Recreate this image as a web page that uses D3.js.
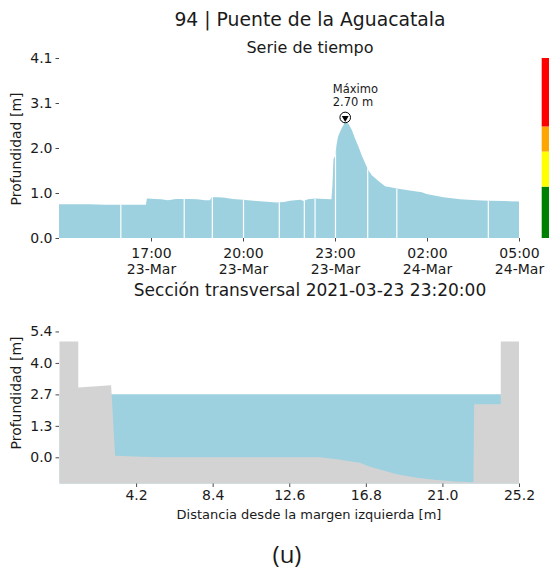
<!DOCTYPE html>
<html><head><meta charset="utf-8">
<script src="https://cdn.jsdelivr.net/npm/d3@7"></script>
<style>html,body{margin:0;padding:0;background:#fff}svg{display:block}</style>
</head><body>
<svg id="chart" width="549" height="571"></svg>
<script>
// ---------- DATA ----------
const tsTimes = ["2021-03-23 14:00","2021-03-23 14:30","2021-03-23 15:00","2021-03-23 15:30","2021-03-23 16:00","2021-03-23 16:30","2021-03-23 16:50","2021-03-23 16:52","2021-03-23 17:08","2021-03-23 17:20","2021-03-23 17:33","2021-03-23 17:49","2021-03-23 18:03","2021-03-23 18:16","2021-03-23 18:30","2021-03-23 18:46","2021-03-23 18:55","2021-03-23 18:59","2021-03-23 19:10","2021-03-23 19:21","2021-03-23 19:40","2021-03-23 20:00","2021-03-23 20:27","2021-03-23 20:53","2021-03-23 21:06","2021-03-23 21:20","2021-03-23 21:32","2021-03-23 21:52","2021-03-23 21:59","2021-03-23 22:07","2021-03-23 22:21","2021-03-23 22:40","2021-03-23 22:53","2021-03-23 22:55","2021-03-23 22:57","2021-03-23 23:00","2021-03-23 23:03","2021-03-23 23:06","2021-03-23 23:10","2021-03-23 23:13","2021-03-23 23:17","2021-03-23 23:20","2021-03-23 23:23","2021-03-23 23:26","2021-03-23 23:33","2021-03-23 23:39","2021-03-23 23:46","2021-03-23 23:52","2021-03-23 23:59","2021-03-24 00:05","2021-03-24 00:12","2021-03-24 00:25","2021-03-24 00:38","2021-03-24 00:51","2021-03-24 01:01","2021-03-24 01:23","2021-03-24 01:50","2021-03-24 01:59","2021-03-24 02:32","2021-03-24 03:05","2021-03-24 03:37","2021-03-24 04:00","2021-03-24 04:30","2021-03-24 05:00"];
const tsDepth = [0.77,0.77,0.77,0.76,0.76,0.76,0.76,0.90,0.89,0.88,0.86,0.89,0.89,0.89,0.88,0.86,0.86,0.93,0.93,0.92,0.89,0.87,0.84,0.82,0.81,0.82,0.85,0.87,0.84,0.88,0.90,0.89,0.88,1.20,1.80,1.86,2.12,2.31,2.42,2.50,2.58,2.70,2.62,2.61,2.46,2.27,2.08,1.89,1.70,1.55,1.43,1.30,1.18,1.15,1.13,1.09,1.04,1.00,0.93,0.88,0.86,0.85,0.84,0.83];
const tsGaps = ["2021-03-23 16:01","2021-03-23 18:05","2021-03-23 19:00","2021-03-23 20:01","2021-03-23 21:11","2021-03-23 22:00","2021-03-23 22:21","2021-03-23 23:01","2021-03-24 00:04","2021-03-24 01:01","2021-03-24 04:00"];
const tsDomain = ["2021-03-23 14:00","2021-03-24 05:00"];
const tsTickTimes = ["2021-03-23 17:00","2021-03-23 20:00","2021-03-23 23:00","2021-03-24 02:00","2021-03-24 05:00"];
const tsYTicks = [0, 1.025, 2.05, 3.075, 4.1];
const tsYMax = 4.1;
const maxLabel = ["Máximo", "2.70 m"];
const maxTime = "2021-03-23 23:20";
const maxDepth = 2.70;
const alertBounds = [0, 1.17, 1.97, 2.54, 4.1];
const alertColors = ["#008000", "#ffff00", "#ffa500", "#ff0000"];

const secX = [0, 1.03, 1.03, 2.83, 3.05, 4.5, 5.5, 10.0, 14.3, 15.2, 16.48, 17.03, 18.5, 19.6, 20.69, 21.7, 22.7, 22.74, 24.2, 24.2, 25.2];
const secZ = [4.95, 4.95, 2.98, 3.08, 0.07, 0.02, 0.0, 0.0, 0.0, -0.08, -0.23, -0.40, -0.72, -0.87, -0.97, -1.03, -1.07, 2.27, 2.27, 4.95, 4.95];
const waterLevel = 2.70;
const secXTicks = [4.2, 8.4, 12.6, 16.8, 21.0, 25.2];
const secYTicks = [0, 1.345, 2.69, 4.035, 5.38];
const secYDomain = [-1.12, 5.4];

const titleMain = "94 | Puente de la Aguacatala";
const titleTS = "Serie de tiempo";
const titleSec = "Sección transversal 2021-03-23 23:20:00";
const yLabel = "Profundidad [m]";
const xLabelSec = "Distancia desde la margen izquierda [m]";
const panelLabel = "(u)";

// ---------- DRAW ----------
const svg = d3.select("#chart");
const FONT = "DejaVu Sans";
const TXT = "#1a1a1a";
const BLUE = "#9dd1e0";
const GRAY = "#d3d3d3";
const parse = d3.timeParse("%Y-%m-%d %H:%M");

const ts = tsTimes.map((t,i)=>({t: parse(t), v: tsDepth[i]}));
const x = d3.scaleTime().domain(tsDomain.map(parse)).range([59, 519]);
const y = d3.scaleLinear().domain([0, tsYMax]).range([238, 58]);

// titles
svg.append("text").attr("x",310).attr("y",26).attr("text-anchor","middle")
  .attr("font-family",FONT).attr("font-size",18.8).attr("fill",TXT).text(titleMain);
svg.append("text").attr("x",310).attr("y",53).attr("text-anchor","middle")
  .attr("font-family",FONT).attr("font-size",16).attr("fill",TXT).text(titleTS);

// area
const area = d3.area().x(d=>x(d.t)).y0(y(0)).y1(d=>y(d.v));
svg.append("clipPath").attr("id","tsclip").append("path").datum(ts).attr("d",area);
svg.append("path").datum(ts).attr("d",area).attr("fill",BLUE);
svg.append("g").attr("clip-path","url(#tsclip)")
  .selectAll("line").data(tsGaps.map(parse)).join("line")
  .attr("x1",d=>x(d)).attr("x2",d=>x(d)).attr("y1",y(0)).attr("y2",y(tsYMax))
  .attr("stroke","#fff").attr("stroke-width",1.2);

// alert colour bar
const yb = d3.range(alertColors.length);
svg.append("g").selectAll("rect").data(yb).join("rect")
  .attr("x",541.7).attr("width",10)
  .attr("y",i=>y(alertBounds[i+1])).attr("height",i=>y(alertBounds[i])-y(alertBounds[i+1]))
  .attr("fill",i=>alertColors[i]);

// y axis top
const gy = svg.append("g").attr("transform","translate(59,0)")
  .call(d3.axisLeft(y).tickValues(tsYTicks).tickFormat(d3.format(".1f")).tickSize(3.5).tickPadding(3));
gy.select(".domain").remove();
gy.selectAll("line").attr("stroke",TXT).attr("stroke-width",0.8);
gy.selectAll("text").attr("font-family",FONT).attr("font-size",14).attr("fill",TXT);

// x axis top
const gx = svg.append("g").attr("transform","translate(0,238)")
  .call(d3.axisBottom(x).tickValues(tsTickTimes.map(parse)).tickFormat("").tickSize(3.5));
gx.select(".domain").remove();
gx.selectAll("line").attr("stroke",TXT).attr("stroke-width",0.8);
const fH = d3.timeFormat("%H:%M"), fD = d3.timeFormat("%d-%b");
gx.selectAll(".tick").append("text").attr("text-anchor","middle")
  .attr("font-family",FONT).attr("font-size",14).attr("fill",TXT)
  .each(function(d){
    const t = d3.select(this);
    t.append("tspan").attr("x",0).attr("y",20).text(fH(d));
    t.append("tspan").attr("x",0).attr("y",35.8).text(fD(d));
  });

svg.append("text").attr("transform","translate(21,149) rotate(-90)").attr("text-anchor","middle")
  .attr("font-family",FONT).attr("font-size",14).attr("fill",TXT).text(yLabel);

// max marker
const mx = x(parse(maxTime)), my = y(maxDepth) - 2;
svg.append("circle").attr("cx",mx).attr("cy",my).attr("r",5.3)
  .attr("fill","#fff").attr("stroke","#000").attr("stroke-width",1);
svg.append("path").attr("d",d3.symbol(d3.symbolTriangle, 20)()).attr("fill","#000")
  .attr("transform",`translate(${mx},${my+0.5}) rotate(180)`);
svg.append("text").attr("x",mx-12.5).attr("font-family",FONT).attr("font-size",11.5).attr("fill",TXT)
  .selectAll("tspan").data(maxLabel).join("tspan")
  .attr("x",mx-12.5).attr("y",(d,i)=>my-24.5+i*13.2).text(d=>d);

// ---------- CROSS SECTION ----------
const sec = secX.map((v,i)=>({x:v, z:secZ[i]}));
const xs = d3.scaleLinear().domain([0, 25.2]).range([59.5, 519]);
const ys = d3.scaleLinear().domain(secYDomain).range([483.5, 331]);

svg.append("text").attr("x",310).attr("y",295.5).attr("text-anchor","middle")
  .attr("font-family",FONT).attr("font-size",17).attr("fill",TXT).text(titleSec);

const water = d3.area().x(d=>xs(d.x)).y0(ys(secYDomain[0])).y1(ys(waterLevel));
svg.append("path").datum(sec).attr("d",water).attr("fill",BLUE);
const ground = d3.area().x(d=>xs(d.x)).y0(ys(secYDomain[0])).y1(d=>ys(d.z));
svg.append("path").datum(sec).attr("d",ground).attr("fill",GRAY);

const gy2 = svg.append("g").attr("transform","translate(59,0)")
  .call(d3.axisLeft(ys).tickValues(secYTicks).tickFormat(d3.format(".1f")).tickSize(3.5).tickPadding(3));
gy2.select(".domain").remove();
gy2.selectAll("line").attr("stroke",TXT).attr("stroke-width",0.8);
gy2.selectAll("text").attr("font-family",FONT).attr("font-size",14).attr("fill",TXT);

const gx2 = svg.append("g").attr("transform","translate(0,483.5)")
  .call(d3.axisBottom(xs).tickValues(secXTicks).tickFormat(d3.format(".1f")).tickSize(3.5).tickPadding(3));
gx2.select(".domain").remove();
gx2.selectAll("line").attr("stroke",TXT).attr("stroke-width",0.8);
gx2.selectAll("text").attr("font-family",FONT).attr("font-size",14).attr("fill",TXT);

svg.append("text").attr("transform","translate(21,393) rotate(-90)").attr("text-anchor","middle")
  .attr("font-family",FONT).attr("font-size",14).attr("fill",TXT).text(yLabel);
svg.append("text").attr("x",309).attr("y",518.5).attr("text-anchor","middle")
  .attr("font-family",FONT).attr("font-size",13).attr("fill",TXT).text(xLabelSec);

svg.append("text").attr("x",287).attr("y",563).attr("text-anchor","middle")
  .attr("font-family","Open Sans").attr("font-size",24).attr("fill",TXT).text(panelLabel);
</script>
</body></html>
